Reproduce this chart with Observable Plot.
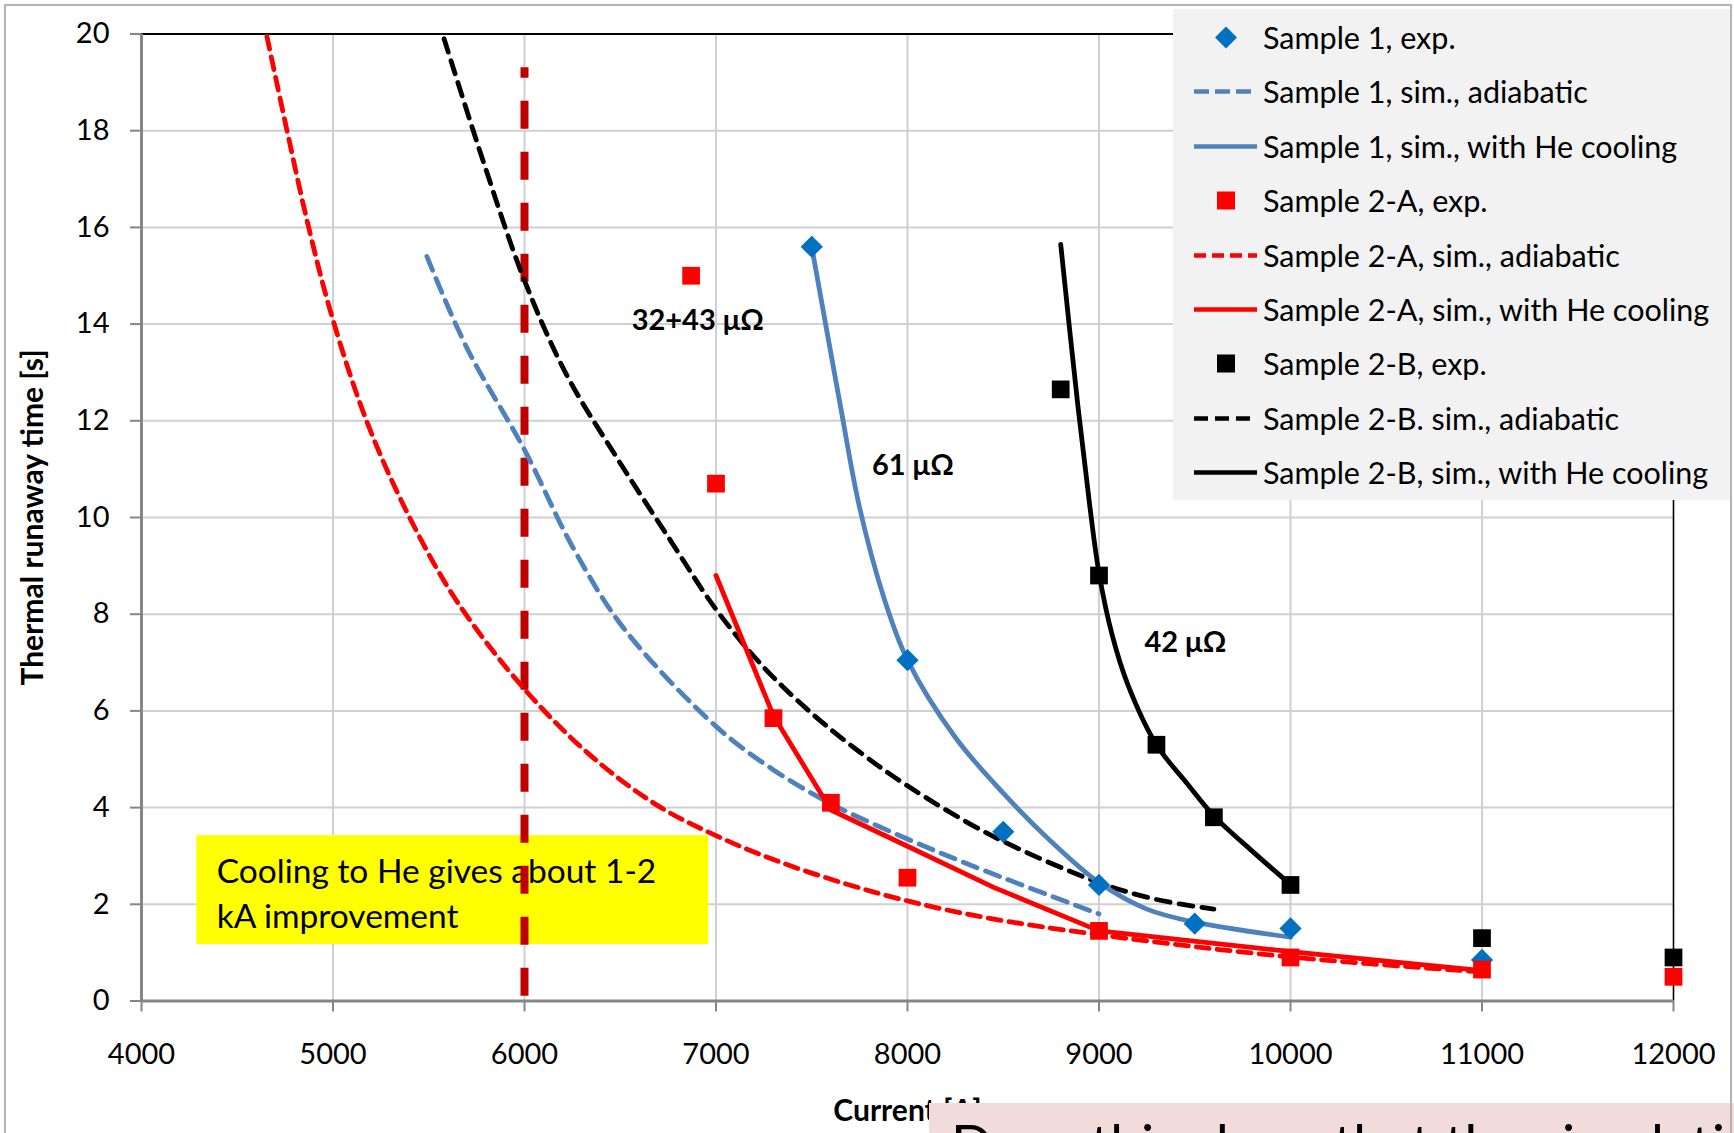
<!DOCTYPE html>
<html>
<head>
<meta charset="utf-8">
<script src="https://cdn.jsdelivr.net/npm/d3@7"></script>
<script src="https://cdn.jsdelivr.net/npm/@observablehq/plot@0.6"></script>
<style>
html, body { margin: 0; padding: 0; background: #fff; }
body { width: 1734px; height: 1133px; overflow: hidden; position: relative; font-family: Lato, "Open Sans", sans-serif; }
#chart { position: absolute; left: 0; top: 0; }
#border { position: absolute; left: 4px; top: 4px; width: 1728px; height: 1200px; border: 2px solid #b4b4b4; box-sizing: border-box; pointer-events: none; }
#legend { position: absolute; left: 1173px; top: 9px; width: 558px; height: 491px; background: #f2f2f2; }
.lrow { position: absolute; left: 0; width: 558px; height: 54px; }
.lrow svg { position: absolute; left: 0; top: 0; }
.lrow span { position: absolute; left: 90px; top: 0; line-height: 54px; font-size: 30.5px; color: #000; white-space: nowrap; }
#note { position: absolute; left: 929px; top: 1103px; width: 805px; height: 40px; background: #f2dcdb; overflow: hidden; }
#note span { position: absolute; left: 22px; top: 13px; font-size: 55px; line-height: 54px; white-space: nowrap; color: #000; }
</style>
</head>
<body>
<div id="chart"></div>
<div id="legend"></div>
<div id="note"><span id="noteText"></span></div>
<div id="border"></div>
<script>
// ---------- data ----------
const xTicks = [4000, 5000, 6000, 7000, 8000, 9000, 10000, 11000, 12000];
const yTicks = [0, 2, 4, 6, 8, 10, 12, 14, 16, 18, 20];
const xGrid = [5000, 6000, 7000, 8000, 9000, 10000, 11000];
const yGrid = [2, 4, 6, 8, 10, 12, 14, 16, 18];

const s1Exp = [[7500,15.6],[8000,7.05],[8500,3.5],[9000,2.4],[9500,1.6],[10000,1.5],[11000,0.85]];
const s1Adia = [[5490,15.4],[5700,13.5],[6000,11.4],[6250,9.4],[6520,7.7],[7000,5.68],[7300,4.78],[7600,4.08],[8000,3.35],[8400,2.7],[9000,1.8]];
const s1He = [[7500,15.6],[7650,12.3],[7750,10.2],[7880,8.3],[8000,7.05],[8250,5.45],[8500,4.3],[8750,3.3],[9000,2.45],[9250,1.9],[9500,1.63],[10000,1.32]];

const s2aExp = [[6870,15.0],[7000,10.7],[7300,5.85],[7600,4.1],[8000,2.55],[9000,1.45],[10000,0.9],[11000,0.65],[12000,0.5]];
const s2aAdia = [[4655,19.95],[4760,18],[4870,16.05],[4995,14.15],[5180,11.95],[5400,10],[5650,8.25],[6000,6.45],[6350,5.06],[6700,4.03],[7000,3.42],[7330,2.88],[7680,2.42],[8000,2.07],[8400,1.73],[9000,1.37],[10000,0.91],[11000,0.6]];
const s2aHe = [[7000,8.8],[7300,5.9],[7600,3.95],[8000,3.2],[8450,2.35],[9000,1.45],[10000,1.02],[11000,0.63]];

const s2bExp = [[8800,12.65],[9000,8.8],[9300,5.3],[9600,3.8],[10000,2.4],[11000,1.3],[12000,0.9]];
const s2bAdia = [[5580,19.9],[5790,17.3],[6000,14.9],[6220,12.95],[6480,11.25],[6750,9.6],[7000,8.1],[7250,6.9],[7500,5.95],[7750,5.15],[8000,4.45],[8450,3.4],[9000,2.45],[9300,2.1],[9600,1.9]];
const s2bHe = [[8800,15.65],[8890,12.3],[8950,10.3],[9000,8.85],[9070,7.55],[9150,6.55],[9300,5.3],[9460,4.5],[9600,3.83],[9800,3.1],[10000,2.41]];

// vertical reference line at 6000 A
const vLineX = [6000];
const vLineY1 = 0.1;
const vLineY2 = 19.3;

// annotations
const annLabels = ["32+43 μΩ", "61 μΩ", "42 μΩ"];
const annX = [6905, 8028, 9451];
const annY = [14.07, 11.07, 7.41];

const boxText = "Cooling to He gives about 1-2\nkA improvement";
const boxX1 = 4289, boxX2 = 6962, boxY1 = 1.17, boxY2 = 3.42;
const boxTextX = 4393, boxTextY = 2.27;

const xTitle = "Current [A]";
const yTitle = "Thermal runaway time [s]";
const noteText = "Does this show that the simulation";

const legendLabels = ["Sample 1, exp.", "Sample 1, sim., adiabatic", "Sample 1, sim., with He cooling",
  "Sample 2-A, exp.", "Sample 2-A, sim., adiabatic", "Sample 2-A, sim., with He cooling",
  "Sample 2-B, exp.", "Sample 2-B. sim., adiabatic", "Sample 2-B, sim., with He cooling"];
const legendKinds = ["diamond", "dash", "solid", "square", "dash", "solid", "square", "dash", "solid"];

// ---------- styles ----------
const cBlueM = "#0070c0", cBlueL = "#4f81bd", cRed = "#ff0000", cBlack = "#000000", cDarkRed = "#c00000";
const legendColors = [cBlueM, cBlueL, cBlueL, cRed, cRed, cRed, cBlack, cBlack, cBlack];
const legendDash = [null, "15,6", null, null, "12,6", null, null, "14,7", null];

const noteBox = [{x1: boxX1, x2: boxX2, y1: boxY1, y2: boxY2}];
const ann = annLabels.map((t, i) => ({t, x: annX[i], y: annY[i]}));

const lw = 4.8;
const chart = Plot.plot({
  width: 1734, height: 1133,
  marginLeft: 141, marginRight: 61, marginTop: 33.5, marginBottom: 132.5,
  style: {background: "transparent", fontFamily: "Lato, sans-serif", overflow: "visible"},
  x: {domain: [4000, 12000]},
  y: {domain: [0, 20]},
  marks: [
    Plot.gridX(xGrid, {stroke: "#d0d0d0", strokeOpacity: 1, strokeWidth: 2}),
    Plot.gridY(yGrid, {stroke: "#d0d0d0", strokeOpacity: 1, strokeWidth: 2}),
    Plot.ruleY([20], {stroke: "#000", strokeWidth: 2}),
    Plot.ruleX([12000], {stroke: "#000", strokeWidth: 1.6}),
    Plot.ruleY([0], {stroke: "#868686", strokeWidth: 3}),
    Plot.ruleX([4000], {stroke: "#868686", strokeWidth: 3}),
    Plot.axisX(xTicks, {tickSize: 11, tickFormat: () => "", stroke: "#868686", strokeWidth: 2, label: null}),
    Plot.axisY(yTicks, {tickSize: 11, tickFormat: () => "", stroke: "#868686", strokeWidth: 2, label: null}),
    Plot.axisX(xTicks, {tickSize: 0, tickPadding: 42, fontSize: 29, fill: "#000", tickFormat: d => String(d), label: null}),
    Plot.axisY(yTicks, {tickSize: 0, tickPadding: 32, fontSize: 29, fill: "#000", tickFormat: d => String(d), label: null}),
    Plot.rect(noteBox, {x1: "x1", x2: "x2", y1: "y1", y2: "y2", fill: "#ffff00"}),
    Plot.text([boxText], {x: boxTextX, y: boxTextY, textAnchor: "start", lineAnchor: "middle", lineHeight: 1.34, fontSize: 33.5, fill: "#000"}),
    Plot.ruleX(vLineX, {y1: vLineY1, y2: vLineY2, stroke: cDarkRed, strokeWidth: 8, strokeDasharray: "28,23"}),
    Plot.line(s1Adia, {curve: "catmull-rom", stroke: cBlueL, strokeWidth: lw, strokeDasharray: "15,9"}),
    Plot.line(s2aAdia, {curve: "catmull-rom", stroke: cRed, strokeWidth: lw, strokeDasharray: "13,8"}),
    Plot.line(s2bAdia, {curve: "catmull-rom", stroke: cBlack, strokeWidth: lw, strokeDasharray: "14,9"}),
    Plot.line(s1He, {curve: "catmull-rom", stroke: cBlueL, strokeWidth: lw}),
    Plot.line(s2aHe, {curve: "linear", stroke: cRed, strokeWidth: lw}),
    Plot.line(s2bHe, {curve: "catmull-rom", stroke: cBlack, strokeWidth: lw}),
    Plot.dot(s1Exp, {symbol: "diamond2", r: 10, fill: cBlueM}),
    Plot.dot(s2aExp, {symbol: "square", r: 10, fill: cRed}),
    Plot.dot(s2bExp, {symbol: "square", r: 10, fill: cBlack}),
    Plot.text(ann, {x: "x", y: "y", text: "t", fontSize: 29, fontWeight: "bold", fill: "#000"}),
    Plot.text([xTitle], {frameAnchor: "bottom", textAnchor: "middle", lineAnchor: "middle", dy: 110, fontSize: 30, fontWeight: "bold", fill: "#000"}),
    Plot.text([yTitle], {frameAnchor: "left", textAnchor: "middle", lineAnchor: "middle", dx: -108, rotate: -90, fontSize: 30, fontWeight: "bold", fill: "#000"})
  ]
});
document.getElementById("chart").appendChild(chart);

// ---------- legend ----------
const legend = d3.select("#legend");
legendLabels.forEach((label, i) => {
  const row = legend.append("div").attr("class", "lrow").style("top", (1 + i * 54.4) + "px");
  const svg = row.append("svg").attr("width", 90).attr("height", 54);
  const kind = legendKinds[i], col = legendColors[i];
  if (kind === "diamond") {
    svg.append("path").attr("d", "M53,16.5L64,27.5L53,38.5L42,27.5Z").attr("fill", col);
  } else if (kind === "square") {
    svg.append("rect").attr("x", 44).attr("y", 18.5).attr("width", 18).attr("height", 18).attr("fill", col);
  } else {
    const l = svg.append("line").attr("x1", 21).attr("x2", 84).attr("y1", 27.5).attr("y2", 27.5)
      .attr("stroke", col).attr("stroke-width", 4.5);
    if (legendDash[i]) l.attr("stroke-dasharray", legendDash[i]);
  }
  row.append("span").text(label);
});
document.getElementById("noteText").textContent = noteText;
</script>
</body>
</html>
